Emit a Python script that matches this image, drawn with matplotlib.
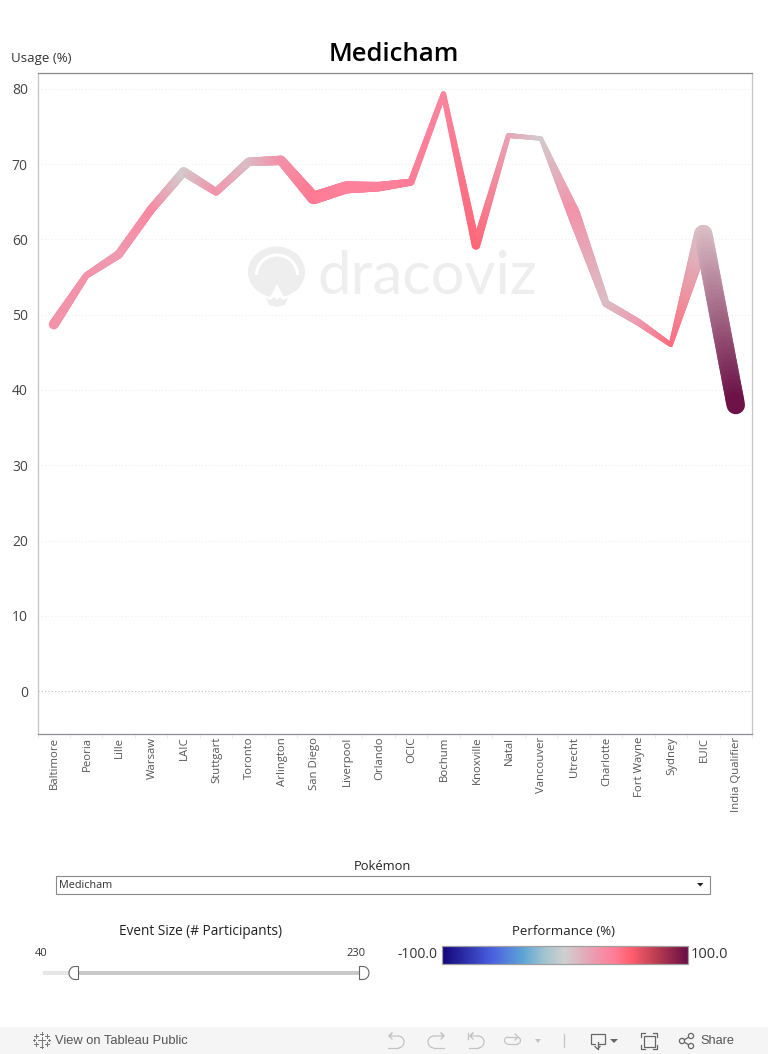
import matplotlib
matplotlib.use("Agg")
import matplotlib.pyplot as plt
import numpy as np
from matplotlib.collections import LineCollection
from matplotlib.colors import LinearSegmentedColormap
from matplotlib.patches import Arc, Circle, Ellipse, Polygon, Rectangle
from matplotlib.transforms import ScaledTranslation

plt.rcParams['font.family'] = ['Open Sans', 'DejaVu Sans']

W, H = 768, 1054

# values
events = ['Baltimore', 'Peoria', 'Lille', 'Warsaw', 'LAIC', 'Stuttgart', 'Toronto',
          'Arlington', 'San Diego', 'Liverpool', 'Orlando', 'OCIC', 'Bochum',
          'Knoxville', 'Natal', 'Vancouver', 'Utrecht', 'Charlotte', 'Fort Wayne',
          'Sydney', 'EUIC', 'India Qualifier']
usage = [48.7, 55.2, 58.0, 64.0, 69.0, 66.3, 70.3, 70.5, 65.5, 66.9, 67.0, 67.6,
         79.3, 59.2, 73.8, 73.4, 63.5, 51.5, 49.0, 46.0, 60.7, 38.0]
performance = [28, 28, 24, 34, 2, 28, 8, 28, 42, 38, 38, 40,
               36, 50, 20, 2, 28, 8, 22, 48, 8, 100]
participants = [100, 65, 85, 85, 90, 75, 85, 95, 125, 120, 95, 70,
                55, 85, 50, 45, 130, 75, 70, 45, 185, 185]

yticks = [0, 10, 20, 30, 40, 50, 60, 70, 80]

# performance colour scale
perf_colors = [(0.0, '#14057a'), (0.2, '#4a5fe0'), (0.33, '#5fa5d5'), (0.42, '#a5c5cf'),
               (0.5, '#d0d0d0'), (0.62, '#ee9ab0'), (0.7, '#ff7e98'), (0.77, '#ff5f6e'),
               (0.88, '#b53a50'), (1.0, '#6a0f45')]
cmap = LinearSegmentedColormap.from_list('perf', perf_colors)


def px_rect(left, top, right, bottom):
    return [left / W, 1 - bottom / H, (right - left) / W, (bottom - top) / H]


def perf_rgba(p):
    return np.array(cmap((p + 100) / 200))


fig = plt.figure(figsize=(W / 100, H / 100), dpi=100)

# overlay in pixel coordinates, for the controls around the chart
ui = fig.add_axes([0, 0, 1, 1], zorder=0)
ui.set_xlim(0, W)
ui.set_ylim(H, 0)
ui.axis('off')

# watermark
mark = '#eeeeee'
ui.add_patch(Ellipse((276.5, 272), 57, 51, color=mark, lw=0))
ui.add_patch(Arc((277, 275), 41, 40, theta1=180, theta2=360, color='white', lw=2.2))
ui.add_patch(Polygon([(269, 299), (277, 284), (285, 299)], color='white', lw=0))
ui.add_patch(Polygon([(266, 298), (271, 300), (274, 297), (277, 300), (280, 297), (283, 300), (288, 298),
                      (285, 305), (277, 307), (269, 305)], color=mark, lw=0))
ui.text(427, 277, 'dracoviz', family='Lato', fontsize=43, color=mark, ha='center', va='center')

# main chart
ax = fig.add_axes(px_rect(37.5, 73, 752, 734), zorder=1)
ax.patch.set_alpha(0)
x = np.arange(len(events))
ax.set_xlim(-0.5, len(events) - 0.5)
ax.set_ylim(-5.7, 82.1)

# each stretch between two events fades in colour and width
segs, cols, lws = [], [], []
for i in range(len(events) - 1):
    t = np.linspace(0, 1, 41)
    xs = x[i] + t
    ys = usage[i] + (usage[i + 1] - usage[i]) * t
    ss = participants[i] + (participants[i + 1] - participants[i]) * t
    c0, c1 = perf_rgba(performance[i]), perf_rgba(performance[i + 1])
    for j in range(len(t) - 1):
        segs.append([(xs[j], ys[j]), (xs[j + 1], ys[j + 1])])
        cols.append(c0 + (c1 - c0) * t[j])
        lws.append(ss[j] / 10 * 0.72)
ax.add_collection(LineCollection(segs, colors=cols, linewidths=lws, capstyle='round', zorder=3))

ax.set_yticks(yticks)
ax.tick_params(axis='y', length=0, labelsize=10, labelcolor='#444444', pad=7)
ax.set_xticks(x)
ax.set_xticklabels(events, rotation=90, fontsize=8.2, color='#555555')
ax.tick_params(axis='x', length=0, pad=2)
shift = ScaledTranslation(1.0 / 100, 0, fig.dpi_scale_trans)
for lab in ax.get_xticklabels():
    lab.set_transform(lab.get_transform() + shift)
ax.set_xticks(np.arange(-0.5, len(events)), minor=True)
ax.tick_params(axis='x', which='minor', length=3, color='#eeeeee', width=0.8)
for v in yticks:
    if v == 0:
        ax.axhline(v, color='#bbbbbb', lw=0.8, ls=(0, (1, 2)), zorder=1)
    else:
        ax.axhline(v, color='#f0f0f0', lw=0.8, ls=(0, (1, 2)), zorder=1)
ax.spines['top'].set_color('#8a8a8a')
ax.spines['bottom'].set_color('#8a8f96')
ax.spines['left'].set_color('#c4c4c4')
ax.spines['right'].set_color('#c4c4c4')
for s in ax.spines.values():
    s.set_linewidth(0.9)

ui.text(394, 54.5, 'Medicham', fontsize=18.5, weight='semibold', color='#000000', ha='center', va='center')
ui.text(11, 58.5, 'Usage (%)', fontsize=9.5, color='#333333', ha='left', va='center')

# pokemon filter
ui.text(382.5, 866.5, 'Pokémon', fontsize=9.3, color='#222222', ha='center', va='center')
ui.add_patch(Rectangle((55.5, 875.5), 654, 18.5, fc='white', ec='#8a8a8a', lw=0.8))
ui.text(59, 885.5, 'Medicham', fontsize=7.8, color='#333333', ha='left', va='center')
ui.add_patch(Polygon([(697, 883), (703.5, 883), (700.2, 886.5)], color='#222222', lw=0))

# event size slider
ui.text(201, 931.5, 'Event Size (# Participants)', fontsize=9.8, color='#222222', ha='center', va='center')
ui.text(41.5, 953, '40', fontsize=8, color='#333333', ha='center', va='center')
ui.text(356, 953, '230', fontsize=8, color='#333333', ha='center', va='center')
ui.add_patch(Rectangle((43, 971), 35, 4, color='#e6e6e6', lw=0))
ui.add_patch(Rectangle((78, 971), 282, 4, color='#c8c8c8', lw=0))
ang = np.linspace(np.pi / 2, 3 * np.pi / 2, 20)
left_knob = [(78.5, 966.5)] + list(zip(75 + 6 * np.cos(ang), 973 - 6.5 * np.sin(ang))) + [(78.5, 979.5)]
ui.add_patch(Polygon(left_knob, closed=True, fc='white', ec='#666666', lw=0.8, zorder=3))
right_knob = [(359.5, 966.5)] + list(zip(363 - 6 * np.cos(ang), 973 - 6.5 * np.sin(ang))) + [(359.5, 979.5)]
ui.add_patch(Polygon(right_knob, closed=True, fc='white', ec='#666666', lw=0.8, zorder=3))

# performance legend
ui.text(563, 931.5, 'Performance (%)', fontsize=9.5, color='#222222', ha='center', va='center')
ui.imshow(np.linspace(0, 1, 256).reshape(1, -1), cmap=cmap, aspect='auto',
          extent=(441.5, 687.5, 964, 946), zorder=2)
ui.add_patch(Rectangle((441.5, 946), 246, 18, fc='none', ec='#a0a0a0', lw=0.9, zorder=3))
ui.set_xlim(0, W)
ui.set_ylim(H, 0)
ui.text(437, 955, '-100.0', fontsize=10, color='#333333', ha='right', va='center')
ui.text(691, 955, '100.0', fontsize=10.5, color='#333333', ha='left', va='center')

# tableau toolbar
ui.add_patch(Rectangle((0, 1027), W, 27, color='#f5f5f5', lw=0))
ui.text(55, 1040.5, 'View on Tableau Public', fontsize=9.3, color='#555555', weight='medium',
        family=['Liberation Sans', 'DejaVu Sans'], ha='left', va='center')
ui.text(717.5, 1040.5, 'Share', fontsize=9.2, color='#555555', weight='medium',
        family=['Liberation Sans', 'DejaVu Sans'], ha='center', va='center')
for px, py, r in [(41.5, 1040, 3.5), (36, 1036, 2), (47, 1036, 2), (36, 1044, 2), (47, 1044, 2),
                  (41.5, 1033.5, 1.5), (41.5, 1046.5, 1.5), (34, 1040, 1), (49, 1040, 1)]:
    ui.plot([px - r, px + r], [py, py], color='#777777', lw=0.7)
    ui.plot([px, px], [py - r, py + r], color='#777777', lw=0.7)

gray = '#c4c4c4'
# undo
ui.plot([398, 389, 392, 389, 392], [1036, 1036, 1033, 1036, 1039], color=gray, lw=0.9)
ui.add_patch(Arc((398, 1042), 12, 12, theta1=-90, theta2=90, color=gray, lw=0.9))
ui.plot([398, 388], [1048, 1048], color=gray, lw=0.9)
# redo
ui.plot([434, 444, 441, 444, 441], [1036, 1036, 1033, 1036, 1039], color=gray, lw=0.9)
ui.add_patch(Arc((434, 1042), 12, 12, theta1=90, theta2=270, color=gray, lw=0.9))
ui.plot([434, 444], [1048, 1048], color=gray, lw=0.9)
# revert
ui.plot([478, 470, 473, 470, 473], [1036, 1036, 1033, 1036, 1039], color=gray, lw=0.9)
ui.plot([468, 468], [1033, 1039], color=gray, lw=0.9)
ui.add_patch(Arc((478, 1042), 12, 12, theta1=-90, theta2=90, color=gray, lw=0.9))
ui.plot([478, 469], [1048, 1048], color=gray, lw=0.9)
# refresh
ui.plot([518, 508], [1037, 1037], color=gray, lw=0.9)
ui.add_patch(Arc((508, 1040.5), 7, 7, theta1=90, theta2=270, color=gray, lw=0.9))
ui.plot([508, 517], [1044, 1044], color=gray, lw=0.9)
ui.add_patch(Arc((517, 1040.5), 7, 7, theta1=-90, theta2=90, color=gray, lw=0.9))
ui.plot([515, 518, 515], [1034, 1037, 1040], color=gray, lw=0.9)
ui.add_patch(Polygon([(535, 1039), (541, 1039), (538, 1043)], color=gray, lw=0))
ui.plot([563.5, 563.5], [1034, 1047], color=gray, lw=0.9)

dark = '#666666'
# download
ui.add_patch(Rectangle((590.5, 1033.5), 14, 10, fc='none', ec=dark, lw=0.9))
ui.add_patch(Rectangle((596, 1042), 3, 3, fc='#f5f5f5', lw=0))
ui.plot([597.5, 597.5], [1042, 1049], color=dark, lw=0.9)
ui.plot([595, 597.5, 600], [1046.5, 1049, 1046.5], color=dark, lw=0.9)
ui.add_patch(Polygon([(610, 1039), (618, 1039), (614, 1043)], color=dark, lw=0))
# full screen
ui.add_patch(Rectangle((644, 1036), 10.5, 10.5, fc='none', ec=dark, lw=0.9))
for cx, sx in [(641, 1), (657, -1)]:
    for cy, sy in [(1033, 1), (1049, -1)]:
        ui.plot([cx + 4 * sx, cx, cx], [cy, cy, cy + 4 * sy], color=dark, lw=0.9)
# share
ui.plot([691, 682, 691], [1036, 1041, 1046], color=dark, lw=0.9)
for c in [(682, 1041), (691, 1036), (691, 1046)]:
    ui.add_patch(Circle(c, 2.6, fc='#f5f5f5', ec=dark, lw=0.9, zorder=3))

fig.savefig('out.png', dpi=100)
